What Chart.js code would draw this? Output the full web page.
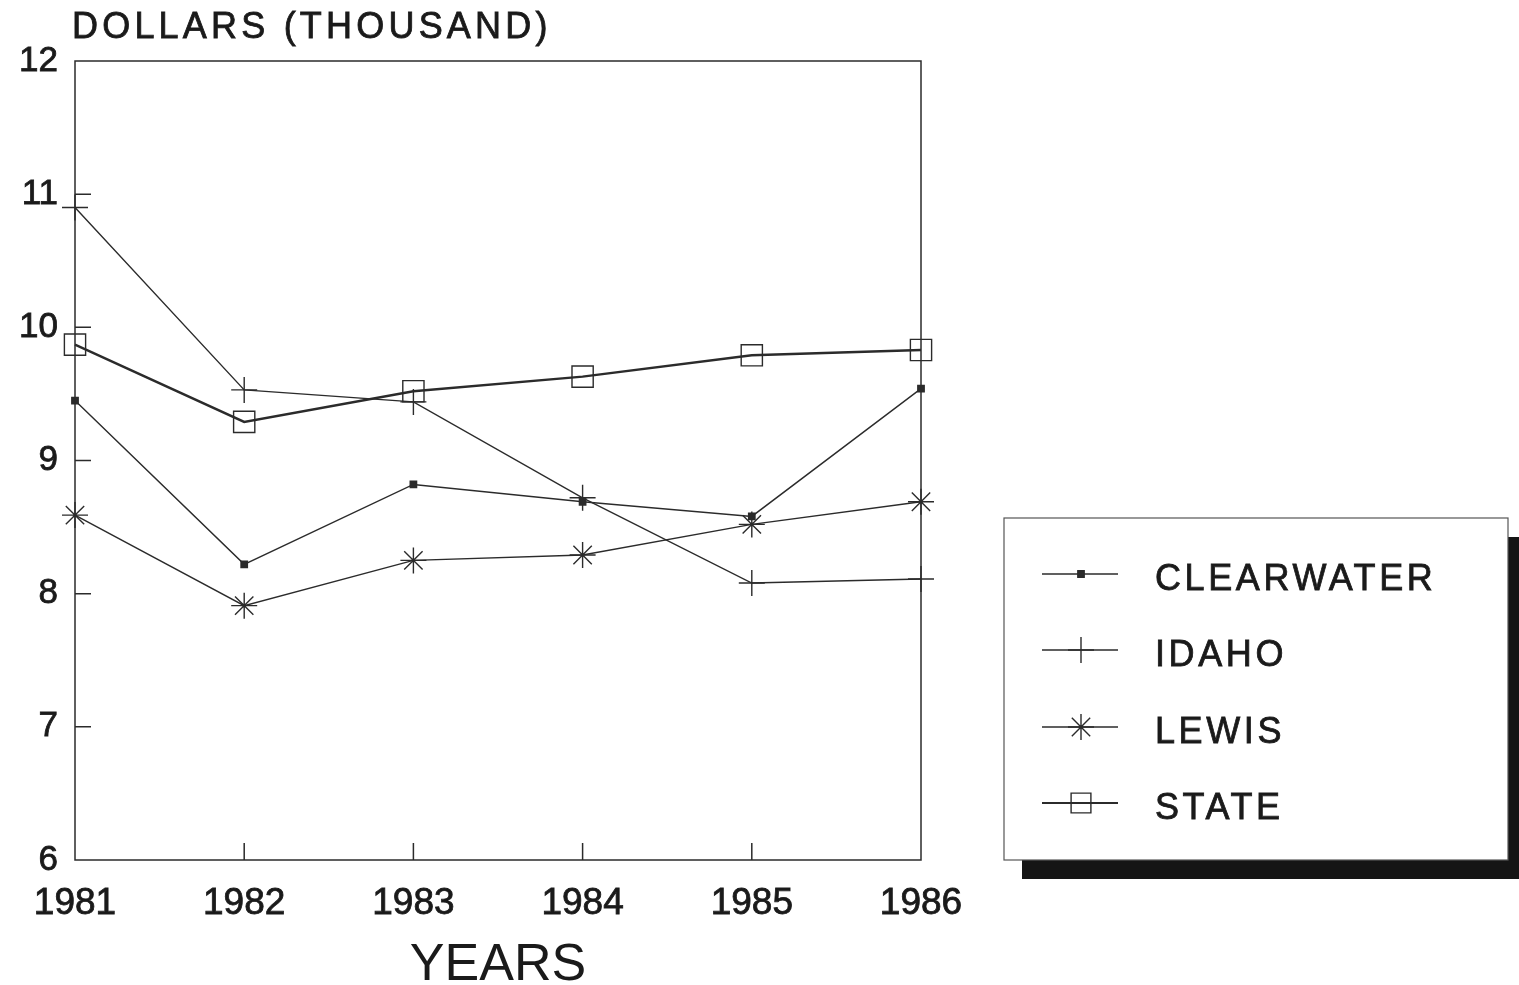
<!DOCTYPE html>
<html>
<head>
<meta charset="utf-8">
<script src="https://cdn.jsdelivr.net/npm/chart.js@4.4.1/dist/chart.umd.min.js"></script>
<style>
  html, body { margin: 0; padding: 0; background: #fff; }
  #wrap { width: 1519px; height: 985px; position: relative; }
</style>
</head>
<body>
<div id="wrap"><canvas id="chart"></canvas></div>
<script>
// --- data ---
const years = ["1981", "1982", "1983", "1984", "1985", "1986"];
const clearwater = [9.45, 8.22, 8.82, 8.69, 8.58, 9.54];
const idaho = [10.90, 9.53, 9.44, 8.72, 8.08, 8.11];
const lewis = [8.59, 7.91, 8.25, 8.29, 8.52, 8.69];
const state = [9.87, 9.29, 9.52, 9.63, 9.79, 9.83];
const seriesNames = ["CLEARWATER", "IDAHO", "LEWIS", "STATE"];
const yMin = 6, yMax = 12;

const INK = "#2b2b2b";
const TEXT = "#1a1a1a";
const FONT = "'Liberation Sans', Arial, sans-serif";
Chart.defaults.font.family = FONT;
Chart.defaults.color = TEXT;

function ds(label, data, style, radius, width, fill) {
    return {
        label: label,
        data: data,
        borderColor: INK,
        borderWidth: width,
        tension: 0,
        clip: false,
        pointStyle: style,
        pointRadius: radius,
        pointHoverRadius: radius,
        pointBorderColor: INK,
        pointBorderWidth: 1.4,
        pointBackgroundColor: fill
    };
}

// texto um pouco mais grosso, como no original
function boldText(ctx, txt, x, y) {
    ctx.fillText(txt, x, y);
    ctx.lineWidth = 0.8;
    ctx.strokeStyle = TEXT;
    ctx.strokeText(txt, x, y);
}

// caixa, ticks internos, título do eixo y e legenda
const decor = {
    id: "decor",
    afterDraw(chart) {
        const ctx = chart.ctx;
        const a = chart.chartArea;
        const xs = chart.scales.x, ys = chart.scales.y;
        ctx.save();
        ctx.strokeStyle = INK;
        ctx.lineWidth = 1.5;
        ctx.strokeRect(a.left, a.top, a.right - a.left, a.bottom - a.top);

        // ticks voltados para dentro
        ctx.beginPath();
        for (let v = yMin + 1; v < yMax; v++) {
            const y = ys.getPixelForValue(v);
            ctx.moveTo(a.left, y); ctx.lineTo(a.left + 16, y);
        }
        for (let i = 1; i < years.length - 1; i++) {
            const x = xs.getPixelForValue(i);
            ctx.moveTo(x, a.bottom); ctx.lineTo(x, a.bottom - 17);
        }
        ctx.stroke();

        // título do eixo y
        ctx.fillStyle = TEXT;
        ctx.font = "36px " + FONT;
        ctx.letterSpacing = "4.2px";
        ctx.textAlign = "left";
        ctx.textBaseline = "middle";
        boldText(ctx, "DOLLARS (THOUSAND)", 72, 28);

        // legenda com sombra
        const lx = 1004, ly = 518, lw = 504, lh = 342;
        ctx.fillStyle = "#151515";
        ctx.fillRect(lx + 18, ly + 19, lw - 3, lh);
        ctx.fillStyle = "#fff";
        ctx.fillRect(lx, ly, lw, lh);
        ctx.strokeStyle = "#555";
        ctx.lineWidth = 1.2;
        ctx.strokeRect(lx, ly, lw, lh);

        const rowY = [574, 650, 727, 803];
        chart.data.datasets.forEach((d, i) => {
            const y = rowY[i];
            ctx.strokeStyle = INK;
            ctx.lineWidth = i === 3 ? 2.2 : 1.4;
            ctx.beginPath();
            ctx.moveTo(1042, y); ctx.lineTo(1118, y);
            ctx.stroke();
            ctx.lineWidth = 1.4;
            ctx.fillStyle = d.pointBackgroundColor;
            Chart.helpers.drawPoint(ctx, {
                pointStyle: d.pointStyle,
                radius: i === 3 ? 14 : d.pointRadius,
                rotation: 0,
                borderWidth: 1.4
            }, 1081, y);
            ctx.fillStyle = TEXT;
            ctx.font = "36px " + FONT;
            ctx.letterSpacing = "3.6px";
            ctx.textBaseline = "middle";
            boldText(ctx, d.label, 1155, y + 6);
        });
        ctx.restore();
    }
};

new Chart(document.getElementById("chart"), {
    type: "line",
    data: {
        labels: years,
        datasets: [
            ds(seriesNames[0], clearwater, "rect", 4.5, 1.4, INK),
            ds(seriesNames[1], idaho, "cross", 13, 1.4, "rgba(0,0,0,0)"),
            ds(seriesNames[2], lewis, "star", 13, 1.4, "rgba(0,0,0,0)"),
            ds(seriesNames[3], state, "rect", 15, 2.4, "rgba(0,0,0,0)")
        ]
    },
    options: {
        responsive: true,
        maintainAspectRatio: false,
        animation: false,
        layout: { padding: { top: 61, right: 598, bottom: 0, left: 0 } },
        plugins: { legend: { display: false }, tooltip: { enabled: false } },
        scales: {
            x: {
                offset: false,
                grid: { display: false, drawTicks: false },
                border: { display: false },
                ticks: {
                    font: { size: 37 }, padding: 22, maxRotation: 0, autoSkip: false,
                    textStrokeColor: TEXT, textStrokeWidth: 0.8
                },
                title: {
                    display: true,
                    text: "YEARS",
                    font: { size: 52, lineHeight: 0.75 },
                    padding: { top: 0, bottom: 0 }
                },
                afterFit(scale) { scale.height = 125; }
            },
            y: {
                min: yMin,
                max: yMax,
                grid: { display: false, drawTicks: false },
                border: { display: false },
                ticks: {
                    stepSize: 1, font: { size: 35 }, padding: 17,
                    textStrokeColor: TEXT, textStrokeWidth: 0.8
                },
                afterFit(scale) { scale.width = 75; }
            }
        }
    },
    plugins: [decor]
});
</script>
</body>
</html>
